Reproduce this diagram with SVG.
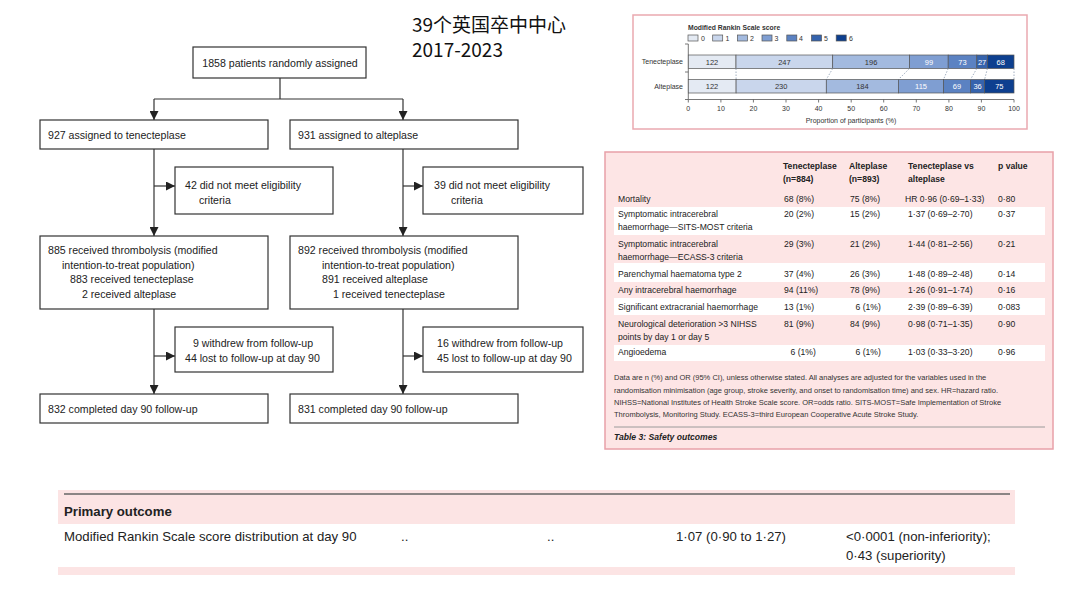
<svg xmlns="http://www.w3.org/2000/svg" width="1080" height="608" viewBox="0 0 1080 608">
<defs>
<style>
.fc{font-family:"Liberation Sans",Arial,sans-serif;font-size:10.6px;fill:#222}
.box{fill:#fff;stroke:#333;stroke-width:1.2}
.ln{stroke:#333;stroke-width:1.2;fill:none}
.ttl{font-family:"Noto Sans CJK SC","Noto Sans",sans-serif;font-size:19px;fill:#111}
.ch{font-family:"Liberation Sans",Arial,sans-serif;font-size:7px;fill:#333}
.chb{font-family:"Liberation Sans",Arial,sans-serif;font-size:6.8px;font-weight:bold;fill:#333}
.bl{font-family:"Liberation Sans",Arial,sans-serif;font-size:7.5px;text-anchor:middle;fill:#333}
.bw{font-family:"Liberation Sans",Arial,sans-serif;font-size:7.5px;text-anchor:middle;fill:#fff}
.seg{stroke:#555;stroke-width:0.7}
.dot{stroke:#8a9ab0;stroke-width:0.8;stroke-dasharray:1.5 1.5;fill:none}
.tk{stroke:#555;stroke-width:0.8;fill:none}
.tb{font-family:"Liberation Sans",Arial,sans-serif;font-size:8.6px;fill:#222}
.tbh{font-family:"Liberation Sans",Arial,sans-serif;font-size:8.6px;font-weight:bold;fill:#222}
.fn{font-family:"Liberation Sans",Arial,sans-serif;font-size:7.5px;fill:#333}
.wr{fill:#fff}
.po{font-family:"Liberation Sans",Arial,sans-serif;font-size:13.2px;fill:#222}
.c0{fill:#e4eaf3}.c1{fill:#c9d6ec}.c2{fill:#a3badf}.c3{fill:#7f9ed2}.c4{fill:#5b82c2}.c5{fill:#3563ad}.c6{fill:#0d3f8f}
</style>
<marker id="ah" viewBox="0 0 10 10" refX="10" refY="5" markerWidth="9" markerHeight="9" markerUnits="userSpaceOnUse" orient="auto">
<path d="M0,0 L10,5 L0,10 z" fill="#222"/>
</marker>
</defs>
<rect width="1080" height="608" fill="#fff"/>

<!-- title -->
<g id="title">
<text class="ttl" x="412" y="32">39个英国卒中中心</text>
<text class="ttl" x="412" y="57">2017-2023</text>
</g>

<!-- flowchart connectors -->
<g id="connectors">
<path class="ln" d="M280,78 V99 M154,99 H403"/>
<path class="ln" d="M154,99 V120" marker-end="url(#ah)"/>
<path class="ln" d="M403,99 V120" marker-end="url(#ah)"/>
<path class="ln" d="M154,149 V236" marker-end="url(#ah)"/>
<path class="ln" d="M154,186 H175" marker-end="url(#ah)"/>
<path class="ln" d="M403,149 V236" marker-end="url(#ah)"/>
<path class="ln" d="M403,186 H423" marker-end="url(#ah)"/>
<path class="ln" d="M154,309 V394" marker-end="url(#ah)"/>
<path class="ln" d="M154,356 H175" marker-end="url(#ah)"/>
<path class="ln" d="M403,309 V394" marker-end="url(#ah)"/>
<path class="ln" d="M403,356 H423" marker-end="url(#ah)"/>
</g>

<g id="n-random"><rect class="box" x="193" y="47" width="173" height="31"/><text class="fc" x="280" y="67" text-anchor="middle">1858 patients randomly assigned</text></g>
<g id="n-tnk"><rect class="box" x="40" y="120" width="228" height="29"/><text class="fc" x="48" y="139">927 assigned to tenecteplase</text></g>
<g id="n-alt"><rect class="box" x="290" y="120" width="228" height="29"/><text class="fc" x="298" y="139">931 assigned to alteplase</text></g>
<g id="n-tnk-excl"><rect class="box" x="175" y="167" width="158" height="47"/><text class="fc" x="185" y="189">42 did not meet eligibility</text><text class="fc" x="199" y="204">criteria</text></g>
<g id="n-alt-excl"><rect class="box" x="423" y="167" width="160" height="47"/><text class="fc" x="434" y="189">39 did not meet eligibility</text><text class="fc" x="451" y="204">criteria</text></g>
<g id="n-tnk-mitt"><rect class="box" x="40" y="236" width="228" height="73"/>
<text class="fc" x="48" y="254">885 received thrombolysis (modified</text>
<text class="fc" x="62" y="269">intention-to-treat population)</text>
<text class="fc" x="70" y="283">883 received tenecteplase</text>
<text class="fc" x="82" y="298">2 received alteplase</text></g>
<g id="n-alt-mitt"><rect class="box" x="290" y="236" width="228" height="73"/>
<text class="fc" x="298" y="254">892 received thrombolysis (modified</text>
<text class="fc" x="322" y="269">intention-to-treat population)</text>
<text class="fc" x="322" y="283">891 received alteplase</text>
<text class="fc" x="333" y="298">1 received tenecteplase</text></g>
<g id="n-tnk-lost"><rect class="box" x="175" y="327" width="158" height="45"/><text class="fc" x="193" y="347">9 withdrew from follow-up</text><text class="fc" x="185" y="362">44 lost to follow-up at day 90</text></g>
<g id="n-alt-lost"><rect class="box" x="423" y="327" width="160" height="45"/><text class="fc" x="437" y="347">16 withdrew from follow-up</text><text class="fc" x="437" y="362">45 lost to follow-up at day 90</text></g>
<g id="n-tnk-done"><rect class="box" x="40" y="394" width="228" height="29"/><text class="fc" x="48" y="413">832 completed day 90 follow-up</text></g>
<g id="n-alt-done"><rect class="box" x="290" y="394" width="228" height="29"/><text class="fc" x="298" y="413">831 completed day 90 follow-up</text></g>

<!-- mRS chart -->
<g id="chart">
<rect x="633" y="15" width="394" height="114" fill="#fff" stroke="#eaa9b0" stroke-width="1.5"/>
<text class="chb" x="688" y="30">Modified Rankin Scale score</text>
<g>
<rect class="c0 seg" x="688" y="35" width="10" height="6"/><text class="ch" x="701" y="41">0</text>
<rect class="c1 seg" x="712.7" y="35" width="10" height="6"/><text class="ch" x="725.5" y="41">1</text>
<rect class="c2 seg" x="737.4" y="35" width="10" height="6"/><text class="ch" x="750" y="41">2</text>
<rect class="c3 seg" x="762" y="35" width="10" height="6"/><text class="ch" x="774.5" y="41">3</text>
<rect class="c4 seg" x="786.8" y="35" width="10" height="6"/><text class="ch" x="799" y="41">4</text>
<rect class="c5 seg" x="811.5" y="35" width="10" height="6"/><text class="ch" x="824" y="41">5</text>
<rect class="c6 seg" x="836.2" y="35" width="10" height="6"/><text class="ch" x="849" y="41">6</text>
</g>
<text class="ch" x="683" y="64" text-anchor="end">Tenecteplase</text>
<text class="ch" x="683" y="89" text-anchor="end">Alteplase</text>
<path class="tk" d="M688.3,44 V99.5 H1014 M685,44 H688.3 M685,72 H688.3 M685,99.5 H688.3"/>
<path class="tk" d="M688.3,99.5 v3 M720.9,99.5 v3 M753.4,99.5 v3 M786,99.5 v3 M818.6,99.5 v3 M851.2,99.5 v3 M883.7,99.5 v3 M916.3,99.5 v3 M948.9,99.5 v3 M981.4,99.5 v3 M1014,99.5 v3"/>
<g class="ch" text-anchor="middle">
<text x="688.3" y="111">0</text><text x="720.9" y="111">10</text><text x="753.4" y="111">20</text><text x="786" y="111">30</text><text x="818.6" y="111">40</text><text x="851.2" y="111">50</text><text x="883.7" y="111">60</text><text x="916.3" y="111">70</text><text x="948.9" y="111">80</text><text x="981.4" y="111">90</text><text x="1014" y="111">100</text>
</g>
<text class="ch" x="851" y="123" text-anchor="middle" font-size="6.6">Proportion of participants (%)</text>
<!-- Tenecteplase bar -->
<rect class="c0 seg" x="688.3" y="55" width="47.7" height="13.5"/>
<rect class="c1 seg" x="736" y="55" width="96.7" height="13.5"/>
<rect class="c2 seg" x="832.7" y="55" width="76.8" height="13.5"/>
<rect class="c3 seg" x="909.5" y="55" width="38.7" height="13.5"/>
<rect class="c4 seg" x="948.2" y="55" width="28.6" height="13.5"/>
<rect class="c5 seg" x="976.8" y="55" width="10.6" height="13.5"/>
<rect class="c6 seg" x="987.4" y="55" width="26.6" height="13.5"/>
<text class="bl" x="712" y="64.5">122</text><text class="bl" x="784.4" y="64.5">247</text><text class="bl" x="871.1" y="64.5">196</text>
<text class="bw" x="928.9" y="64.5">99</text><text class="bw" x="962.5" y="64.5">73</text><text class="bw" x="982.1" y="64.5">27</text><text class="bw" x="1000.7" y="64.5">68</text>
<!-- Alteplase bar -->
<rect class="c0 seg" x="688.3" y="79.5" width="47.8" height="13.5"/>
<rect class="c1 seg" x="736.1" y="79.5" width="90.2" height="13.5"/>
<rect class="c2 seg" x="826.3" y="79.5" width="72.1" height="13.5"/>
<rect class="c3 seg" x="898.4" y="79.5" width="45.1" height="13.5"/>
<rect class="c4 seg" x="943.5" y="79.5" width="27" height="13.5"/>
<rect class="c5 seg" x="970.5" y="79.5" width="14.1" height="13.5"/>
<rect class="c6 seg" x="984.6" y="79.5" width="29.4" height="13.5"/>
<text class="bl" x="712" y="89">122</text><text class="bl" x="781.2" y="89">230</text><text class="bl" x="862.4" y="89">184</text>
<text class="bw" x="921" y="89">115</text><text class="bw" x="957" y="89">69</text><text class="bw" x="977.6" y="89">36</text><text class="bw" x="999.3" y="89">75</text>
<path class="dot" d="M736,68.5 L736.1,79.5 M832.7,68.5 L826.3,79.5 M909.5,68.5 L898.4,79.5 M948.2,68.5 L943.5,79.5 M976.8,68.5 L970.5,79.5 M987.4,68.5 L984.6,79.5 M1014,68.5 L1014,79.5"/>
</g>

<!-- Safety table -->
<g id="table">
<rect x="605" y="152" width="448" height="297" fill="#fde5e5" stroke="#e8a0a8" stroke-width="1.5"/>
<rect class="wr" x="614" y="207" width="431" height="28"/>
<rect class="wr" x="614" y="263" width="431" height="19"/>
<rect class="wr" x="614" y="298" width="431" height="17"/>
<rect class="wr" x="614" y="345" width="431" height="16"/>
<text class="tbh" x="783" y="169">Tenecteplase</text><text class="tbh" x="783" y="182">(n=884)</text>
<text class="tbh" x="849" y="169">Alteplase</text><text class="tbh" x="849" y="182">(n=893)</text>
<text class="tbh" x="908" y="169">Tenecteplase vs</text><text class="tbh" x="908" y="182">alteplase</text>
<text class="tbh" x="998" y="169">p value</text>

<text class="tb" x="618" y="202">Mortality</text><text class="tb" x="784" y="202">68 (8%)</text><text class="tb" x="850" y="202">75 (8%)</text><text class="tb" x="905" y="202">HR 0·96 (0·69–1·33)</text><text class="tb" x="998" y="202">0·80</text>

<text class="tb" x="618" y="217">Symptomatic intracerebral</text><text class="tb" x="618" y="230">haemorrhage—SITS-MOST criteria</text><text class="tb" x="784" y="217">20 (2%)</text><text class="tb" x="850" y="217">15 (2%)</text><text class="tb" x="908" y="217">1·37 (0·69–2·70)</text><text class="tb" x="998" y="217">0·37</text>

<text class="tb" x="618" y="247">Symptomatic intracerebral</text><text class="tb" x="618" y="260">haemorrhage—ECASS-3 criteria</text><text class="tb" x="784" y="247">29 (3%)</text><text class="tb" x="850" y="247">21 (2%)</text><text class="tb" x="908" y="247">1·44 (0·81–2·56)</text><text class="tb" x="998" y="247">0·21</text>

<text class="tb" x="618" y="276.5">Parenchymal haematoma type 2</text><text class="tb" x="784" y="276.5">37 (4%)</text><text class="tb" x="850" y="276.5">26 (3%)</text><text class="tb" x="908" y="276.5">1·48 (0·89–2·48)</text><text class="tb" x="998" y="276.5">0·14</text>

<text class="tb" x="618" y="293">Any intracerebral haemorrhage</text><text class="tb" x="784" y="293">94 (11%)</text><text class="tb" x="850" y="293">78 (9%)</text><text class="tb" x="908" y="293">1·26 (0·91–1·74)</text><text class="tb" x="998" y="293">0·16</text>

<text class="tb" x="618" y="309.5">Significant extracranial haemorrhage</text><text class="tb" x="784" y="309.5">13 (1%)</text><text class="tb" x="855.5" y="309.5">6 (1%)</text><text class="tb" x="908" y="309.5">2·39 (0·89–6·39)</text><text class="tb" x="998" y="309.5">0·083</text>

<text class="tb" x="618" y="326.5">Neurological deterioration &gt;3 NIHSS</text><text class="tb" x="618" y="339.5">points by day 1 or day 5</text><text class="tb" x="784" y="326.5">81 (9%)</text><text class="tb" x="850" y="326.5">84 (9%)</text><text class="tb" x="908" y="326.5">0·98 (0·71–1·35)</text><text class="tb" x="998" y="326.5">0·90</text>

<text class="tb" x="618" y="355">Angioedema</text><text class="tb" x="790.5" y="355">6 (1%)</text><text class="tb" x="855.5" y="355">6 (1%)</text><text class="tb" x="908" y="355">1·03 (0·33–3·20)</text><text class="tb" x="998" y="355">0·96</text>

<text class="fn" x="614" y="380">Data are n (%) and OR (95% CI), unless otherwise stated. All analyses are adjusted for the variables used in the</text>
<text class="fn" x="614" y="392.5">randomisation minimisation (age group, stroke severity, and onset to randomisation time) and sex. HR=hazard ratio.</text>
<text class="fn" x="614" y="404.5">NIHSS=National Institutes of Health Stroke Scale score. OR=odds ratio. SITS-MOST=Safe Implementation of Stroke</text>
<text class="fn" x="614" y="417">Thrombolysis, Monitoring Study. ECASS-3=third European Cooperative Acute Stroke Study.</text>
<line x1="614" y1="427" x2="1045" y2="427" stroke="#9a9a9a" stroke-width="1"/>
<text class="tbh" x="614" y="440" font-style="italic">Table 3: Safety outcomes</text>
</g>

<!-- Primary outcome -->
<g id="primary">
<rect x="58" y="490" width="957" height="85" fill="#fce4e4"/>
<rect x="58" y="524" width="957" height="43" fill="#fff"/>
<line x1="64" y1="494" x2="1010" y2="494" stroke="#666" stroke-width="1.5"/>
<text class="po" x="64" y="516" font-weight="bold" font-size="13.5">Primary outcome</text>
<text class="po" x="64" y="541">Modified Rankin Scale score distribution at day 90</text>
<text class="po" x="401" y="541">..</text>
<text class="po" x="547" y="541">..</text>
<text class="po" x="676" y="541">1·07 (0·90 to 1·27)</text>
<text class="po" x="846" y="541">&lt;0·0001 (non-inferiority);</text>
<text class="po" x="846" y="560">0·43 (superiority)</text>
</g>
</svg>
